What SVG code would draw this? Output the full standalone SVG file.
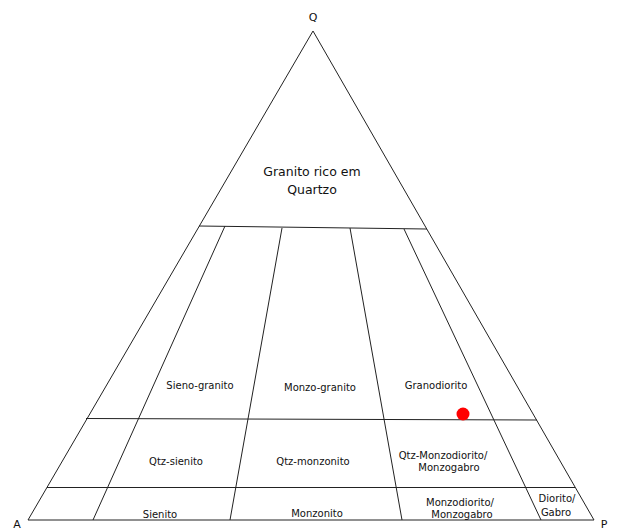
<svg xmlns="http://www.w3.org/2000/svg" width="618" height="531" viewBox="0 0 618 531">
<style>
.ln{stroke:#222;stroke-width:1;fill:none}
.t{font-family:"DejaVu Sans",Verdana,sans-serif;fill:#111;text-anchor:middle}
.s{font-size:10px}
.v{font-size:11px}
.b{font-size:12.5px}
</style>
<rect width="618" height="531" fill="#fff"/>
<g id="triangle">
<path class="ln" d="M28,520 L313,31 L594,520 Z"/>
</g>
<g id="connectors">
<line class="ln" x1="199" y1="226" x2="427" y2="229"/>
<line class="ln" x1="86" y1="418.5" x2="537" y2="420"/>
<line class="ln" x1="47" y1="487.5" x2="575" y2="487.5"/>
<line class="ln" x1="225" y1="226" x2="93" y2="520"/>
<line class="ln" x1="282" y1="228" x2="230" y2="520"/>
<line class="ln" x1="350" y1="228" x2="402" y2="520"/>
<line class="ln" x1="404" y1="229" x2="541" y2="520"/>
</g>
<g id="vertex-labels">
<text class="t v" x="313" y="21">Q</text>
<text class="t v" x="17" y="528">A</text>
<text class="t v" x="604" y="528">P</text>
</g>
<g id="granito-rico">
<text class="t b" x="312" y="176">Granito rico em</text>
<text class="t b" x="312" y="194">Quartzo</text>
</g>
<g id="sieno-granito"><text class="t s" x="200" y="389">Sieno-granito</text></g>
<g id="monzo-granito"><text class="t s" x="320" y="391">Monzo-granito</text></g>
<g id="granodiorito"><text class="t s" x="436" y="389">Granodiorito</text></g>
<g id="qtz-sienito"><text class="t s" x="176" y="465">Qtz-sienito</text></g>
<g id="qtz-monzonito"><text class="t s" x="313" y="465">Qtz-monzonito</text></g>
<g id="qtz-monzodiorito">
<text class="t s" x="443" y="459">Qtz-Monzodiorito/</text>
<text class="t s" x="449" y="471">Monzogabro</text>
</g>
<g id="sienito"><text class="t s" x="160" y="518">Sienito</text></g>
<g id="monzonito"><text class="t s" x="317" y="517">Monzonito</text></g>
<g id="monzodiorito">
<text class="t s" x="460" y="506">Monzodiorito/</text>
<text class="t s" x="462" y="518">Monzogabro</text>
</g>
<g id="diorito">
<text class="t s" x="557" y="502">Diorito/</text>
<text class="t s" x="556" y="516">Gabro</text>
</g>
<g id="sample-point"><circle cx="463" cy="414" r="6.5" fill="#f00"/></g>
</svg>
